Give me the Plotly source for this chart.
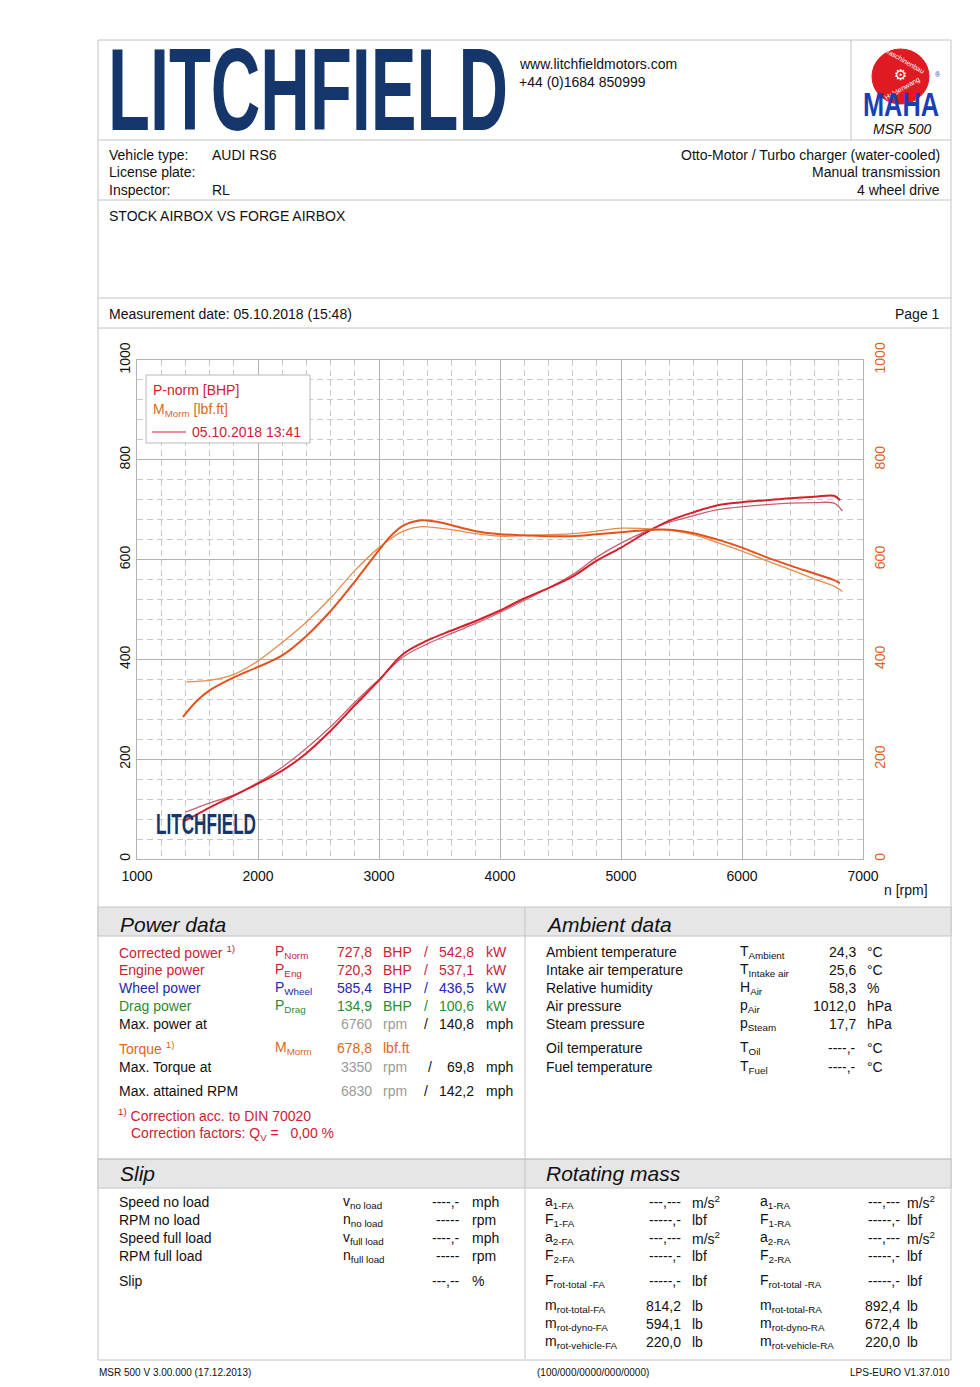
import json
import plotly.graph_objects as go

# ---------------- data ----------------
rpm_p_main = [1380, 1500, 1600, 1800, 2000, 2200, 2400, 2600, 2800, 3000, 3200, 3400, 3600, 3800, 4000,
              4200, 4400, 4600, 4800, 5000, 5200, 5400, 5600, 5800, 6000, 6200, 6400, 6600, 6760, 6810]
p_main = [75, 90, 103, 127, 151, 177, 212, 257, 308, 358, 411, 438, 458, 477, 498,
          522, 543, 566, 598, 624, 653, 678, 695, 709, 715, 719, 723, 726, 727.8, 719]

rpm_p_ref = [1400, 1500, 1600, 1800, 2000, 2200, 2400, 2600, 2800, 3000, 3200, 3400, 3600, 3800, 4000,
             4200, 4400, 4600, 4800, 5000, 5200, 5400, 5600, 5800, 6000, 6200, 6400, 6600, 6760, 6830]
p_ref = [94, 103, 112, 128, 153, 184, 222, 265, 314, 360, 405, 431, 452, 472, 494,
         518, 543, 570, 605, 633, 656, 675, 688, 700, 706, 710, 713, 714, 713, 697]

rpm_m_main = [1380, 1500, 1600, 1800, 2000, 2200, 2400, 2600, 2800, 3000, 3100, 3200, 3350, 3500, 3600,
              3800, 4000, 4200, 4400, 4600, 4800, 5000, 5200, 5400, 5600, 5800, 6000, 6200, 6400,
              6600, 6760, 6810]
m_main = [285, 318, 338, 364, 385, 408, 447, 497, 556, 619, 648, 668, 678.8, 675, 669,
          657, 651, 649, 647, 647, 651, 655, 659, 660, 653, 640, 624, 605, 588,
          572, 559, 553]

rpm_m_ref = [1410, 1500, 1600, 1800, 2000, 2200, 2400, 2600, 2800, 3000, 3200, 3350, 3500, 3600,
             3800, 4000, 4200, 4400, 4600, 4800, 5000, 5200, 5400, 5600, 5800, 6000, 6200, 6400,
             6600, 6760, 6830]
m_ref = [355, 356, 358, 370, 397, 434, 475, 523, 578, 624, 657, 666, 663, 660,
         652, 647, 648, 650, 652, 657, 663, 662, 659, 650, 634, 617, 598, 580,
         561, 547, 536]

x_ticks = [1000, 2000, 3000, 4000, 5000, 6000, 7000]
y_ticks = [0, 200, 400, 600, 800, 1000]

# ---------------- page helpers ----------------
W, H = 980, 1387
FONT = "Liberation Sans, Arial, Helvetica, sans-serif"
BOLDF = "Liberation Sans, Arial, sans-serif"
RED = "#cc2233"
ORANGE = "#dd6622"
BLUE = "#2626b0"
GREEN = "#2a8a35"
GRAY = "#9a9a9a"
FRAME = "#c4c4c4"
NAVY = "#15366a"

# font-size -> target width (px) for horizontally condensed logo texts
STRETCH = {"116": 400, "30": 100, "33": 76}


def X(px):
    return px / W


def Y(py):
    return 1 - py / H


ann = []
shapes = []


def txt(x, y, text, size=14, color="#111", anchor="left", font=FONT, yanchor="middle", angle=0):
    ann.append(dict(x=X(x), y=Y(y), xref="paper", yref="paper", text=text, showarrow=False,
                    xanchor=anchor, yanchor=yanchor, textangle=angle, borderpad=0,
                    font=dict(family=font, size=size, color=color)))


def hline(x0, x1, y, color=FRAME, width=1):
    shapes.append(dict(type="line", xref="paper", yref="paper", x0=X(x0), x1=X(x1), y0=Y(y), y1=Y(y),
                       line=dict(color=color, width=width), layer="above"))


def vline(x, y0, y1, color=FRAME, width=1):
    shapes.append(dict(type="line", xref="paper", yref="paper", x0=X(x), x1=X(x), y0=Y(y0), y1=Y(y1),
                       line=dict(color=color, width=width), layer="above"))


def rect(x0, y0, x1, y1, fill, line=FRAME, width=1, layer="below"):
    shapes.append(dict(type="rect", xref="paper", yref="paper", x0=X(x0), x1=X(x1), y0=Y(y1), y1=Y(y0),
                       fillcolor=fill, line=dict(color=line, width=width), layer=layer))


# ---------------- frame ----------------
rect(98, 40, 951, 1360, "rgba(0,0,0,0)")
hline(98, 951, 140)
vline(851, 40, 140)
hline(98, 951, 200)
hline(98, 951, 298)
hline(98, 951, 328)
rect(98, 907, 951, 936, "#e6e6e6")
rect(98, 1159, 951, 1188, "#e6e6e6")
vline(525, 907, 1359)
hline(98, 951, 1159)

# ---------------- header ----------------
txt(107, 90, "<b>LITCHFIELD</b>", size=116, color=NAVY, font=BOLDF)
txt(518, 64, "www.litchfieldmotors.com", size=14)
txt(518, 82, "+44 (0)1684 850999", size=14)

# MAHA logo
shapes.append(dict(type="circle", xref="paper", yref="paper", x0=X(872), x1=X(929), y0=Y(104), y1=Y(49),
                   fillcolor="#e01a22", line=dict(color="#e01a22", width=1), layer="above"))
txt(904, 61, "Maschinenbau", size=7, color="white", anchor="center", angle=30)
txt(902, 89, "Haldenwang", size=7, color="white", anchor="center", angle=-30)
txt(900, 75, "⚙", size=15, color="white", font="DejaVu Sans", anchor="center")
txt(862, 104, "<b>MAHA</b>", size=33, color="#1a3fb5", font=BOLDF, anchor="left")
txt(938, 74, "®", size=7, color="#1a3fb5", anchor="center")
txt(902, 129, "<i>MSR 500</i>", size=14, anchor="center")

# vehicle info
txt(108, 155, "Vehicle type:", size=14)
txt(211, 155, "AUDI RS6", size=14)
txt(108, 172, "License plate:", size=14)
txt(108, 190, "Inspector:", size=14)
txt(211, 190, "RL", size=14)
txt(941, 155, "Otto-Motor / Turbo charger (water-cooled)", size=14, anchor="right")
txt(941, 172, "Manual transmission", size=14, anchor="right")
txt(941, 190, "4 wheel drive", size=14, anchor="right")
txt(108, 216, "STOCK AIRBOX VS FORGE AIRBOX", size=14)
txt(108, 314, "Measurement date: 05.10.2018 (15:48)", size=14)
txt(941, 314, "Page 1", size=14, anchor="right")

# ---------------- chart legend box ----------------
rect(146, 375, 310, 443, "white", line="#b8b8b8", layer="above")
txt(152, 390, "P-norm [BHP]", size=14, color=RED)
txt(152, 410, "M<sub>Morm</sub> [lbf.ft]", size=14, color=ORANGE)
hline(152, 186, 432, color=RED, width=1.2)
txt(191, 432, "05.10.2018 13:41", size=14, color=RED)
txt(155, 823, "<b>LITCHFIELD</b>", size=30, color=NAVY, font=BOLDF)
txt(883, 890, "n [rpm]", size=14)

# ---------------- Power data ----------------
txt(119, 924, "<i>Power data</i>", size=21)
rows_y = [951.5, 969.5, 987.5, 1005.5, 1023.5]
pd_lbl = ["Corrected power <sup>1)</sup>", "Engine power", "Wheel power", "Drag power"]
pd_sym = ["P<sub>Norm</sub>", "P<sub>Eng</sub>", "P<sub>Wheel</sub>", "P<sub>Drag</sub>"]
pd_bhp = ["727,8", "720,3", "585,4", "134,9"]
pd_kw = ["542,8", "537,1", "436,5", "100,6"]
pd_col = [RED, RED, BLUE, GREEN]
for i in range(4):
    y = rows_y[i]
    c = pd_col[i]
    txt(118, y, pd_lbl[i], color=c)
    txt(274, y, pd_sym[i], color=c)
    txt(373, y, pd_bhp[i], color=c, anchor="right")
    txt(382, y, "BHP", color=c)
    txt(423, y, "/", color=c)
    txt(475, y, pd_kw[i], color=c, anchor="right")
    txt(485, y, "kW", color=c)
txt(118, 1023.5, "Max. power at")
txt(373, 1023.5, "6760", color=GRAY, anchor="right")
txt(382, 1023.5, "rpm", color=GRAY)
txt(423, 1023.5, "/")
txt(475, 1023.5, "140,8", anchor="right")
txt(485, 1023.5, "mph")
txt(118, 1048, "Torque <sup>1)</sup>", color=ORANGE)
txt(274, 1048, "M<sub>Morm</sub>", color=ORANGE)
txt(373, 1048, "678,8", color=ORANGE, anchor="right")
txt(382, 1048, "lbf.ft", color=ORANGE)
txt(118, 1067, "Max. Torque at")
txt(373, 1067, "3350", color=GRAY, anchor="right")
txt(382, 1067, "rpm", color=GRAY)
txt(427, 1067, "/")
txt(475, 1067, "69,8", anchor="right")
txt(485, 1067, "mph")
txt(118, 1091, "Max. attained RPM")
txt(373, 1091, "6830", color=GRAY, anchor="right")
txt(382, 1091, "rpm", color=GRAY)
txt(423, 1091, "/")
txt(475, 1091, "142,2", anchor="right")
txt(485, 1091, "mph")
txt(117, 1115, "<sup>1)</sup> Correction acc. to DIN 70020", color=RED)
txt(130, 1134, "Correction factors: Q<sub>V</sub> =   0,00 %", color=RED)

# ---------------- Ambient data ----------------
txt(545, 924, "<i>Ambient data</i>", size=21)
amb_lbl = ["Ambient temperature", "Intake air temperature", "Relative humidity", "Air pressure",
           "Steam pressure", "Oil temperature", "Fuel temperature"]
amb_sym = ["T<sub>Ambient</sub>", "T<sub>Intake air</sub>", "H<sub>Air</sub>", "p<sub>Air</sub>",
           "p<sub>Steam</sub>", "T<sub>Oil</sub>", "T<sub>Fuel</sub>"]
amb_val = ["24,3", "25,6", "58,3", "1012,0", "17,7", "----,-", "----,-"]
amb_unit = ["°C", "°C", "%", "hPa", "hPa", "°C", "°C"]
amb_y = [951.5, 969.5, 987.5, 1005.5, 1023.5, 1048, 1067]
for i in range(7):
    y = amb_y[i]
    txt(545, y, amb_lbl[i])
    txt(739, y, amb_sym[i])
    txt(857, y, amb_val[i], anchor="right")
    txt(866, y, amb_unit[i])

# ---------------- Slip ----------------
txt(119, 1173, "<i>Slip</i>", size=21)
slip_lbl = ["Speed no load", "RPM no load", "Speed full load", "RPM full load", "Slip"]
slip_sym = ["v<sub>no load</sub>", "n<sub>no load</sub>", "v<sub>full load</sub>", "n<sub>full load</sub>", ""]
slip_val = ["----,-", "-----", "----,-", "-----", "---,--"]
slip_unit = ["mph", "rpm", "mph", "rpm", "%"]
slip_y = [1201.5, 1219.5, 1237.5, 1255.5, 1281]
for i in range(5):
    y = slip_y[i]
    txt(118, y, slip_lbl[i])
    if slip_sym[i]:
        txt(342, y, slip_sym[i])
    txt(461, y, slip_val[i], anchor="right")
    txt(471, y, slip_unit[i])

# ---------------- Rotating mass ----------------
txt(545, 1173, "<i>Rotating mass</i>", size=21)
rm_sym_fa = ["a<sub>1-FA</sub>", "F<sub>1-FA</sub>", "a<sub>2-FA</sub>", "F<sub>2-FA</sub>",
             "F<sub>rot-total -FA</sub>", "m<sub>rot-total-FA</sub>", "m<sub>rot-dyno-FA</sub>",
             "m<sub>rot-vehicle-FA</sub>"]
rm_sym_ra = ["a<sub>1-RA</sub>", "F<sub>1-RA</sub>", "a<sub>2-RA</sub>", "F<sub>2-RA</sub>",
             "F<sub>rot-total -RA</sub>", "m<sub>rot-total-RA</sub>", "m<sub>rot-dyno-RA</sub>",
             "m<sub>rot-vehicle-RA</sub>"]
rm_val_fa = ["---,---", "-----,-", "---,---", "-----,-", "-----,-", "814,2", "594,1", "220,0"]
rm_val_ra = ["---,---", "-----,-", "---,---", "-----,-", "-----,-", "892,4", "672,4", "220,0"]
rm_unit = ["m/s<sup>2</sup>", "lbf", "m/s<sup>2</sup>", "lbf", "lbf", "lb", "lb", "lb"]
rm_y = [1201.5, 1219.5, 1237.5, 1255.5, 1281, 1305.5, 1323.5, 1341.5]
for i in range(8):
    y = rm_y[i]
    txt(544, y, rm_sym_fa[i])
    txt(682, y, rm_val_fa[i], anchor="right")
    txt(691, y, rm_unit[i])
    txt(759, y, rm_sym_ra[i])
    txt(901, y, rm_val_ra[i], anchor="right")
    txt(906, y, rm_unit[i])

# ---------------- footer ----------------
txt(98, 1372, "MSR 500 V 3.00.000 (17.12.2013)", size=10)
txt(536, 1372, "(100/000/0000/000/0000)", size=10)
txt(951, 1372, "LPS-EURO V1.37.010", size=10, anchor="right")

# ---------------- figure ----------------
fig = go.Figure()
fig.add_trace(go.Scatter(x=rpm_p_ref, y=p_ref, mode="lines", line=dict(color="#c8606e", width=1.3, shape="spline"),
                         showlegend=False, hoverinfo="skip"))
fig.add_trace(go.Scatter(x=rpm_m_ref, y=m_ref, mode="lines", yaxis="y2",
                         line=dict(color="#e88a4e", width=1.3, shape="spline"), showlegend=False, hoverinfo="skip"))
fig.add_trace(go.Scatter(x=rpm_p_main, y=p_main, mode="lines", line=dict(color="#d41f2c", width=2, shape="spline"),
                         showlegend=False, name="P-norm [BHP]"))
fig.add_trace(go.Scatter(x=rpm_m_main, y=m_main, mode="lines", yaxis="y2",
                         line=dict(color="#e2521c", width=2, shape="spline"), showlegend=False, name="M [lbf.ft]"))

grid_major = "#b2b2b2"
grid_minor = "#c8c8c8"
fig.update_layout(
    width=W, height=H, autosize=False,
    margin=dict(l=0, r=0, t=0, b=0, pad=0, autoexpand=False),
    paper_bgcolor="white", plot_bgcolor="white",
    showlegend=False,
    font=dict(family=FONT, size=14, color="#111"),
    xaxis=dict(domain=[X(137), X(863)], range=[1000, 7000], tickvals=x_ticks, automargin=False,
               ticktext=[str(v) for v in x_ticks], showgrid=True, gridcolor=grid_major, gridwidth=1,
               minor=dict(dtick=200, showgrid=True, gridcolor=grid_minor, griddash="6px,4px", gridwidth=1),
               showline=True, linecolor=grid_major, mirror=True, zeroline=False, ticks="",
               ticklabelstandoff=4,
               tickfont=dict(family=FONT, size=14, color="#111"), fixedrange=True),
    yaxis=dict(domain=[Y(859), Y(360)], range=[0, 1000], tickvals=y_ticks, tickangle=-90, automargin=False,
               showgrid=True, gridcolor=grid_major, gridwidth=1,
               minor=dict(dtick=40, showgrid=True, gridcolor=grid_minor, griddash="6px,4px", gridwidth=1),
               showline=True, linecolor=grid_major, mirror=True, zeroline=False, ticks="",
               tickfont=dict(family=FONT, size=14, color="#111"), fixedrange=True),
    yaxis2=dict(overlaying="y", side="right", range=[0, 1000], tickvals=y_ticks, tickangle=-90,
                showgrid=False, zeroline=False, ticks="", anchor="x", automargin=False,
                ticklabelstandoff=7,
                tickfont=dict(family=FONT, size=14, color="#e0621e"), fixedrange=True),
    annotations=ann,
    shapes=shapes,
)

post = """
var gd = document.getElementById('{plot_id}');
document.documentElement.style.margin='0';
document.documentElement.style.overflow='hidden';
document.body.style.margin='0';
document.body.style.padding='0';
document.body.style.overflow='hidden';
gd.style.position='absolute'; gd.style.left='0px'; gd.style.top='0px';
var targets = %s;
gd.querySelectorAll('text.annotation-text').forEach(function(t){
  if (t.textContent.indexOf('LITCHFIELD') === 0 || t.textContent === 'MAHA') {
    var fs = String(Math.round(parseFloat(t.style.fontSize)));
    if (targets[fs]) {
      var b = t.getBBox();
      var s = targets[fs] / b.width;
      t.setAttribute('transform', 'translate(' + b.x + ',0) scale(' + s + ',1) translate(' + (-b.x) + ',0)');
    }
  }
});
""" % json.dumps(STRETCH)

fig.write_html("out.html", config={"displayModeBar": False}, post_script=post)
